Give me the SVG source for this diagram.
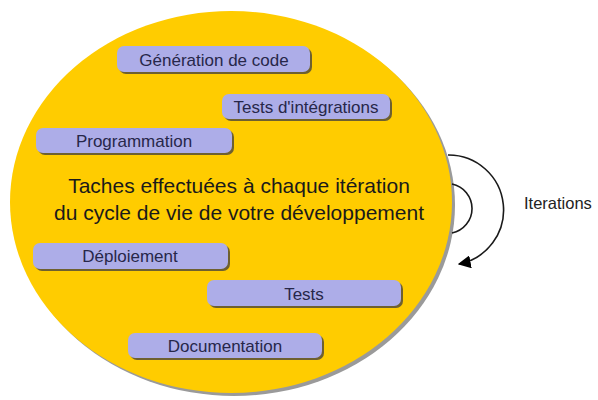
<svg xmlns="http://www.w3.org/2000/svg" width="598" height="400" viewBox="0 0 598 400">
<defs>
<style>
.box{fill:#ADADE8;}
.shd{fill:#6E6030;}
.lbl{font-family:"Liberation Sans",Arial,sans-serif;font-size:17px;fill:#27274A;text-anchor:middle;}
.main{font-family:"Liberation Sans",Arial,sans-serif;font-size:21px;fill:#1A1A1A;text-anchor:middle;}
.arc{fill:none;stroke:#1A1A1A;stroke-width:1.6;}
</style>
<marker id="ah" viewBox="0 0 10 10" refX="9" refY="5" markerWidth="13" markerHeight="13" markerUnits="userSpaceOnUse" orient="auto">
<path d="M0,0 L10,5 L0,10 z" fill="#000"/>
</marker>
</defs>
<rect width="598" height="400" fill="#fff"/>
<g id="cycle">
<ellipse cx="234" cy="205" rx="221" ry="191" fill="#9A9A9A"/>
<ellipse cx="231" cy="202" rx="221" ry="191" fill="#FFCC00"/>
<text class="main" x="239" y="193">Taches effectuées à chaque itération</text>
<text class="main" x="239" y="220">du cycle de vie de votre développement</text>
</g>
<g id="gen">
<rect class="shd" x="119" y="48" width="193" height="26" rx="7"/>
<rect class="box" x="117" y="46" width="193" height="26" rx="7"/>
<text class="lbl" x="214" y="66">Génération de code</text>
</g>
<g id="integ">
<rect class="shd" x="224" y="96" width="168" height="25" rx="7"/>
<rect class="box" x="222" y="94" width="168" height="25" rx="7"/>
<text class="lbl" x="306" y="113">Tests d'intégrations</text>
</g>
<g id="prog">
<rect class="shd" x="38" y="130" width="196" height="25" rx="7"/>
<rect class="box" x="36" y="128" width="196" height="25" rx="7"/>
<text class="lbl" x="134" y="147">Programmation</text>
</g>
<g id="deploy">
<rect class="shd" x="35" y="245" width="195" height="26" rx="7"/>
<rect class="box" x="33" y="243" width="195" height="26" rx="7"/>
<text class="lbl" x="130" y="262">Déploiement</text>
</g>
<g id="tests">
<rect class="shd" x="209" y="282" width="194" height="26" rx="7"/>
<rect class="box" x="207" y="280" width="194" height="26" rx="7"/>
<text class="lbl" x="304" y="300">Tests</text>
</g>
<g id="doc">
<rect class="shd" x="130" y="335" width="194" height="25" rx="7"/>
<rect class="box" x="128" y="333" width="194" height="25" rx="7"/>
<text class="lbl" x="225" y="352">Documentation</text>
</g>
<g id="connectors">
<path class="arc" d="M452 184 A25 25 0 0 1 452 233"/>
<path class="arc" d="M448 155 A55 55 0 0 1 459 264" marker-end="url(#ah)"/>
</g>
<g id="iter">
<text x="524" y="209" font-family="'Liberation Sans',Arial,sans-serif" font-size="16.5" fill="#222">Iterations</text>
</g>
</svg>
